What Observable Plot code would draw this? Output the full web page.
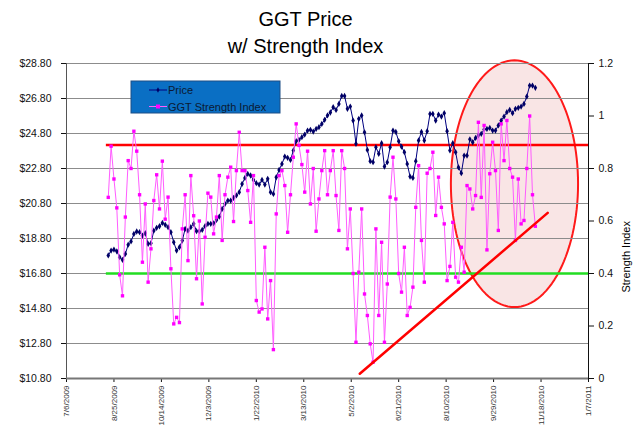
<!DOCTYPE html>
<html>
<head>
<meta charset="utf-8">
<script src="https://cdn.jsdelivr.net/npm/d3@7"></script>
<script src="https://cdn.jsdelivr.net/npm/@observablehq/plot@0.6"></script>
<style>
  html, body { margin: 0; padding: 0; background: #fff; }
  #chart { width: 640px; height: 425px; }
</style>
</head>
<body>
<div id="chart"></div>
<script>
// ---------- data ----------
const titleLines = ["GGT Price", "w/ Strength Index"];
const seriesNames = ["Price", "GGT Strength Index"];
const rightAxisTitle = "Strength Index";

// x-axis tick labels (50-day steps)
const xTickLabels = ["7/6/2009","8/25/2009","10/14/2009","12/3/2009","1/22/2010","3/13/2010",
  "5/2/2010","6/21/2010","8/10/2010","9/29/2010","11/18/2010","1/7/2011"];
// left axis (price) ticks
const priceTicks = [10.8, 12.8, 14.8, 16.8, 18.8, 20.8, 22.8, 24.8, 26.8, 28.8];
// right axis (strength) ticks
const strengthTicks = [0, 0.2, 0.4, 0.6, 0.8, 1.0, 1.2];
const strengthTickLabels = ["0", "0.2", "0.4", "0.6", "0.8", "1", "1.2"];

// samples every 3 calendar days starting 2009-08-19
const sampleStart = "2009-08-19";
const sampleStepDays = 3;

const price = [
  17.83, 18.11, 18.17, 18.07, 17.73, 17.58, 17.92, 18.45, 18.63, 19.06,
  19.20, 19.16, 18.97, 19.10, 18.49, 18.53, 19.25, 19.41, 19.50, 19.69,
  19.58, 19.45, 19.16, 18.59, 18.11, 18.30, 18.68, 19.35, 19.25, 19.45,
  19.64, 19.22, 19.22, 19.29, 19.50, 19.64, 19.64, 19.67, 19.86, 20.05,
  20.49, 20.78, 20.97, 20.97, 21.12, 21.26, 21.45, 21.92, 22.26, 22.49,
  22.40, 22.15, 21.96, 21.88, 22.15, 21.88, 22.21, 21.45, 21.35, 22.30,
  22.72, 23.06, 23.48, 23.41, 23.29, 23.83, 24.36, 24.44, 24.59, 24.74,
  24.97, 25.01, 24.91, 25.06, 25.16, 25.35, 25.58, 25.83, 26.00, 26.30,
  26.15, 26.49, 26.95, 26.95, 26.21, 26.34, 25.54, 24.21, 25.64, 25.83,
  24.87, 23.86, 23.22, 23.16, 24.02, 23.64, 24.25, 22.91, 23.16, 24.02,
  24.97, 24.89, 24.36, 24.05, 23.73, 23.06, 22.34, 22.26, 23.22, 24.40,
  24.89, 24.40, 24.93, 25.92, 25.92, 25.54, 25.88, 25.77, 25.96, 24.93,
  23.83, 24.25, 23.73, 22.87, 22.53, 23.54, 23.54, 24.47, 24.30, 24.55,
  24.70, 24.78, 25.03, 25.06, 25.12, 24.97, 24.97, 25.26, 25.54, 25.77,
  26.02, 26.15, 25.96, 26.21, 26.27, 26.34, 26.49, 26.91, 27.54, 27.54, 27.41
];

const strength = [
  0.69, 0.885, 0.76, 0.65, 0.395, 0.315, 0.615, 0.83, 0.80, 0.942,
  0.866, 0.70, 0.443, 0.665, 0.367, 0.494, 0.678, 0.776, 0.646, 0.828,
  0.607, 0.691, 0.418, 0.208, 0.233, 0.213, 0.57, 0.70, 0.449, 0.773,
  0.62, 0.38, 0.60, 0.284, 0.538, 0.706, 0.691, 0.551, 0.615, 0.773,
  0.526, 0.70, 0.767, 0.805, 0.598, 0.792, 0.938, 0.792, 0.792, 0.716,
  0.595, 0.773, 0.297, 0.253, 0.265, 0.50, 0.227, 0.373, 0.11, 0.627,
  0.773, 0.792, 0.735, 0.557, 0.70, 0.843, 0.97, 0.888, 0.815, 0.71,
  0.866, 0.665, 0.80, 0.561, 0.684, 0.792, 0.868, 0.70, 0.792, 0.868,
  0.697, 0.564, 0.868, 0.80, 0.494, 0.646, 0.40, 0.138, 0.405, 0.646,
  0.322, 0.24, 0.132, 0.062, 0.57, 0.24, 0.519, 0.138, 0.36, 0.691,
  0.843, 0.684, 0.40, 0.329, 0.50, 0.24, 0.271, 0.348, 0.652, 0.811,
  0.526, 0.367, 0.782, 0.80, 0.862, 0.621, 0.767, 0.652, 0.589, 0.373,
  0.427, 0.595, 0.386, 0.367, 0.50, 0.405, 0.735, 0.722, 0.646, 0.697,
  0.976, 0.69, 0.964, 0.49, 0.78, 0.90, 0.792, 0.564, 0.97, 0.83,
  0.983, 0.80, 0.767, 0.526, 0.76, 0.589, 0.602, 0.80, 1.0, 0.70, 0.58
];

// annotation: horizontal strength bands
const upperBand = 0.89;
const lowerBand = 0.40;
const bandStart = "2009-08-17";
// annotation: rising support trend line
const trendDates = ["2010-05-11", "2010-11-25"];
const trendLevels = [0.018, 0.631];
// annotation: highlight ellipse (centre date/level, half-width in days, half-height in index units)
const ellipseCenterDate = "2010-10-21";
const ellipseCenterLevel = 0.742;
const ellipseHalfDays = 67;
const ellipseHalfLevel = 0.47;

// ---------- helpers ----------
const iso = s => new Date(s + "T00:00:00Z");
const mdy = s => { const [m, d, y] = s.split("/").map(Number); return new Date(Date.UTC(y, m - 1, d)); };
const tickDates = xTickLabels.map(mdy);
const domainStart = tickDates[0];
const domainEnd = tickDates[tickDates.length - 1];
// secondary axis mapping (strength 0..1.2 onto price 10.8..28.8)
const toY = s => priceTicks[0] + s * (priceTicks[priceTicks.length - 1] - priceTicks[0]) / strengthTicks[strengthTicks.length - 1];

const start = iso(sampleStart);
const rows = price.map((p, i) => ({
  date: d3.utcDay.offset(start, i * sampleStepDays),
  price: p,
  strength: strength[i]
}));

const trend = trendDates.map((d, i) => ({date: iso(d), level: trendLevels[i]}));

const ellCenter = iso(ellipseCenterDate);
const ellipsePts = d3.range(0, 121).map(i => {
  const t = i / 120 * 2 * Math.PI;
  return {
    date: new Date(+ellCenter + Math.cos(t) * ellipseHalfDays * 864e5),
    level: ellipseCenterLevel + Math.sin(t) * ellipseHalfLevel
  };
});

const font = "'Liberation Sans', Arial, Helvetica, sans-serif";

const chart = Plot.plot({
  width: 640,
  height: 425,
  marginLeft: 66,
  marginRight: 52,
  marginTop: 63,
  marginBottom: 47,
  style: {fontFamily: font, background: "#fff", color: "#111", overflow: "visible"},
  x: {type: "utc", domain: [domainStart, domainEnd]},
  y: {domain: [priceTicks[0], priceTicks[priceTicks.length - 1]]},
  marks: [
    // highlight ellipse
    Plot.line(ellipsePts, {x: "date", y: d => toY(d.level), curve: "linear-closed",
      fill: "#f9e5e5", stroke: "#ff1a1a", strokeWidth: 2}),
    // gridlines
    Plot.gridY(priceTicks, {stroke: "#8c8c8c", strokeOpacity: 1, strokeWidth: 1}),
    // axes
    Plot.axisY({anchor: "left", ticks: priceTicks, tickFormat: d => "$" + d.toFixed(2),
      tickSize: 5, tickPadding: 10, fontSize: 10.5, label: null}),
    Plot.axisY({anchor: "right", ticks: strengthTicks.map(toY), tickFormat: (d, i) => strengthTickLabels[i],
      tickSize: 5, tickPadding: 5, fontSize: 10.5, label: null}),
    Plot.axisX({ticks: tickDates, tickFormat: (d, i) => xTickLabels[i], tickRotate: -90,
      tickSize: 4, tickPadding: 3, fontSize: 8, fill: "#333", label: null}),
    Plot.ruleX([domainStart], {stroke: "#555", strokeWidth: 1}),
    Plot.ruleX([domainEnd], {stroke: "#111", strokeWidth: 1}),
    Plot.ruleY([priceTicks[0]], {stroke: "#777", strokeWidth: 2}),
    // strength bands
    Plot.ruleY([upperBand], {y: d => toY(d), x1: () => iso(bandStart), x2: () => domainEnd, stroke: "#ff0000", strokeWidth: 2.5}),
    Plot.ruleY([lowerBand], {y: d => toY(d), x1: () => iso(bandStart), x2: () => domainEnd, stroke: "#22dd22", strokeWidth: 2.5}),
    // price series
    Plot.line(rows, {x: "date", y: "price", stroke: "#000080", strokeWidth: 1}),
    Plot.dot(rows, {x: "date", y: "price", symbol: "diamond", r: 1.9, fill: "#000066", stroke: null}),
    // strength series
    Plot.line(rows, {x: "date", y: d => toY(d.strength), stroke: "#ff5cff", strokeWidth: 1}),
    Plot.dot(rows, {x: "date", y: d => toY(d.strength), symbol: "square", r: 1.9, fill: "#ff00ff", stroke: null}),
    // trend line
    Plot.line(trend, {x: "date", y: d => toY(d.level), stroke: "#ff0000", strokeWidth: 2.5}),
    // titles
    Plot.text([titleLines[0]], {text: d => d, frameAnchor: "top", dx: -22, dy: -44, fontSize: 20, fill: "#000", lineAnchor: "middle"}),
    Plot.text([titleLines[1]], {text: d => d, frameAnchor: "top", dx: -22, dy: -17, fontSize: 20, fill: "#000", lineAnchor: "middle"}),
    Plot.text([rightAxisTitle], {text: d => d, frameAnchor: "right", dx: 38, rotate: -90, fontSize: 11, fill: "#000", lineAnchor: "middle"})
  ]
});

// legend box inside plot area (layout only)
const svg = d3.select(chart);
const lg = svg.append("g").attr("font-family", font).attr("font-size", 11).attr("text-anchor", "start");
lg.append("rect").attr("x", 131).attr("y", 81).attr("width", 149).attr("height", 32)
  .attr("fill", "#0a6fc4").attr("stroke", "#1d4f86").attr("stroke-width", 1);
lg.append("line").attr("x1", 149).attr("x2", 167).attr("y1", 90).attr("y2", 90).attr("stroke", "#000080");
lg.append("path").attr("d", d3.symbol(d3.symbolDiamond, 8)()).attr("transform", "translate(158,90)").attr("fill", "#000066");
lg.append("text").attr("x", 168).attr("y", 94).attr("fill", "#0b1a33").attr("text-anchor", "start").text(seriesNames[0]);
lg.append("line").attr("x1", 149).attr("x2", 167).attr("y1", 106.5).attr("y2", 106.5).attr("stroke", "#ff5cff");
lg.append("rect").attr("x", 156).attr("y", 104.5).attr("width", 4).attr("height", 4).attr("fill", "#ff00ff");
lg.append("text").attr("x", 168).attr("y", 110.5).attr("fill", "#0b1a33").attr("text-anchor", "start").text(seriesNames[1]);

document.getElementById("chart").appendChild(chart);
</script>
</body>
</html>
